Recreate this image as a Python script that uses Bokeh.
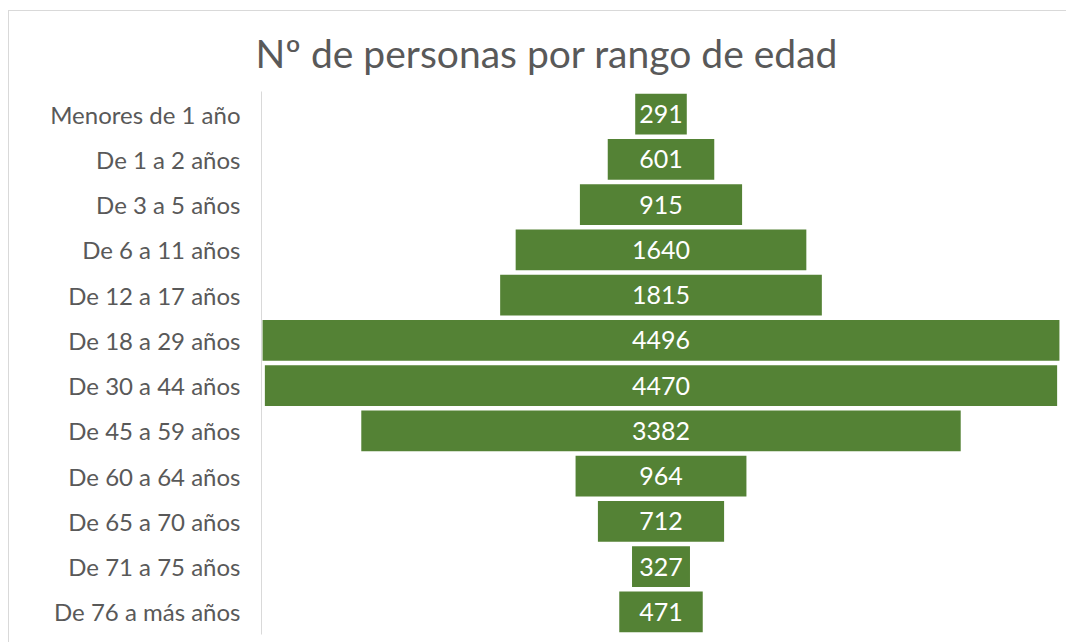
from bokeh.plotting import figure
from bokeh.models import ColumnDataSource, FactorRange, Range1d
from bokeh.embed import file_html
from bokeh.resources import INLINE
from bokeh.core.properties import value

categories = ["Menores de 1 año", "De 1 a 2 años", "De 3 a 5 años", "De 6 a 11 años",
              "De 12 a 17 años", "De 18 a 29 años", "De 30 a 44 años", "De 45 a 59 años",
              "De 60 a 64 años", "De 65 a 70 años", "De 71 a 75 años", "De 76 a más años"]
personas = [291, 601, 915, 1640, 1815, 4496, 4470, 3382, 964, 712, 327, 471]

src = ColumnDataSource(dict(
    cat=categories,
    val=personas,
    left=[-v / 2 for v in personas],
    right=[v / 2 for v in personas],
    zero=[0] * len(personas),
    lab=[str(v) for v in personas],
))

p = figure(width=1058, height=632, output_backend="svg", toolbar_location=None,
           y_range=FactorRange(factors=categories[::-1], range_padding=0),
           x_range=Range1d(-2254, 2254),
           min_border_left=252, min_border_right=7, min_border_top=80, min_border_bottom=9,
           title="Nº de personas por rango de edad")

p.styles = {"margin-left": "8px", "margin-top": "10px",
            "border-left": "1px solid #d9d9d9", "border-top": "1px solid #d9d9d9"}

p.title.text_font = "Lato"
p.title.text_font_size = "39px"
p.title.text_font_style = "normal"
p.title.text_color = "#595959"
p.title.align = "left"
p.title.offset = -6
p.title.standoff = 32

p.hbar(y="cat", left="left", right="right", height=0.9, source=src,
       fill_color="#548235", line_color=None)

p.text(x="zero", y="cat", text="lab", source=src, text_align="center",
       text_baseline="middle", text_color="white", text_font=value("Lato"),
       text_font_size="25px")

p.xaxis.visible = False
p.xgrid.visible = False
p.ygrid.visible = False
p.outline_line_color = None

ax = p.yaxis[0]
ax.axis_line_color = "#d9d9d9"
ax.major_tick_line_color = None
ax.minor_tick_line_color = None
ax.major_tick_out = 0
ax.major_label_standoff = 21
ax.major_label_text_font = "Lato"
ax.major_label_text_font_size = "24px"
ax.major_label_text_color = "#595959"

open("out.html", "w").write(file_html(p, INLINE))
